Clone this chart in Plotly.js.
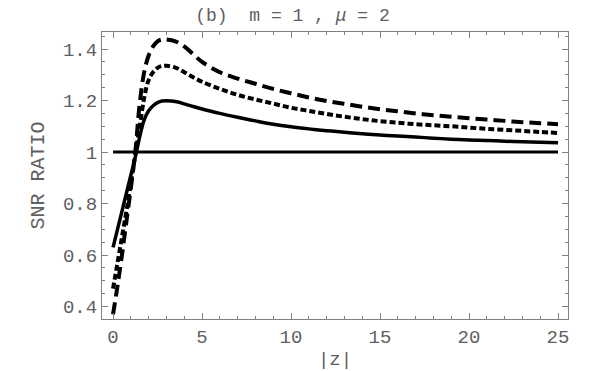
<!DOCTYPE html>
<html>
<head>
<meta charset="utf-8">
<script src="https://cdn.plot.ly/plotly-3.0.1.min.js"></script>
<style>html,body{margin:0;padding:0;background:#fff;}#chart{width:600px;height:371px;}</style>
</head>
<body>
<div id="chart"></div>
<script>
const zValues = [0, 0.25, 0.5, 0.75, 1, 1.25, 1.5, 1.75, 2, 2.25, 2.5, 2.75, 3, 3.5, 4, 4.5, 5, 6, 7, 8, 9, 10, 11, 12, 13, 14, 15, 16, 17, 18, 19, 20, 21, 22, 23, 24, 25];
const solidSNR = [0.63, 0.70, 0.77, 0.84, 0.91, 0.98, 1.06, 1.125, 1.16, 1.18, 1.192, 1.198, 1.199, 1.196, 1.187, 1.177, 1.167, 1.150, 1.135, 1.121, 1.108, 1.098, 1.090, 1.083, 1.077, 1.071, 1.066, 1.062, 1.058, 1.054, 1.050, 1.047, 1.045, 1.042, 1.040, 1.038, 1.036];
const dottedSNR = [0.47, 0.57, 0.67, 0.77, 0.88, 0.99, 1.10, 1.21, 1.28, 1.31, 1.327, 1.334, 1.335, 1.328, 1.31, 1.29, 1.273, 1.245, 1.222, 1.204, 1.188, 1.172, 1.160, 1.148, 1.137, 1.128, 1.120, 1.114, 1.108, 1.104, 1.100, 1.095, 1.090, 1.086, 1.082, 1.078, 1.074];
const dashedSNR = [0.37, 0.48, 0.60, 0.73, 0.86, 1.0, 1.19, 1.31, 1.375, 1.41, 1.43, 1.437, 1.437, 1.43, 1.41, 1.38, 1.35, 1.31, 1.285, 1.265, 1.245, 1.228, 1.212, 1.198, 1.187, 1.176, 1.166, 1.158, 1.150, 1.143, 1.137, 1.131, 1.126, 1.121, 1.116, 1.112, 1.108];
const refZ = [0, 25];
const refSNR = [1, 1];
const xTickVals = [0, 5, 10, 15, 20, 25];
const xTickText = ['0', '5', '10', '15', '20', '25'];
const yTickVals = [0.4, 0.6, 0.8, 1, 1.2, 1.4];
const yTickText = ['0.4', '0.6', '0.8', '1', '1.2', '1.4'];

const mono = 'Liberation Mono, Courier New, monospace';
const txtColor = '#606060';

const traces = [
  {x: refZ, y: refSNR, mode: 'lines', line: {color: '#000', width: 3}, hoverinfo: 'skip'},
  {x: zValues, y: solidSNR, mode: 'lines', line: {color: '#000', width: 3.5, shape: 'spline'}},
  {x: zValues, y: dottedSNR, mode: 'lines', line: {color: '#000', width: 4, dash: '6px,3px', shape: 'spline'}},
  {x: zValues, y: dashedSNR, mode: 'lines', line: {color: '#000', width: 4, dash: '12px,6px', shape: 'spline'}}
];

const axisCommon = {
  showgrid: false, zeroline: false, showline: true, linecolor: '#808080', linewidth: 1,
  mirror: 'ticks', ticks: 'inside', ticklen: 6, tickcolor: '#808080', tickwidth: 1,
  tickfont: {family: mono, size: 19, color: txtColor}
};

const layout = {
  width: 600, height: 371,
  margin: {l: 102, r: 32, t: 32, b: 52},
  paper_bgcolor: '#fff', plot_bgcolor: '#fff',
  showlegend: false,
  title: {text: '(b)  m = 1 , <i>μ</i> = 2', font: {family: mono, size: 18, color: txtColor}, x: 0.4875, xanchor: 'center', y: 0.96, yanchor: 'middle', xref: 'container', yref: 'container'},
  xaxis: Object.assign({}, axisCommon, {
    range: [-0.62, 25.56], tickvals: xTickVals, ticktext: xTickText,
    minor: {ticks: 'inside', dtick: 1, tick0: 0, ticklen: 3, tickcolor: '#808080'},
    title: {text: '|z|', font: {family: mono, size: 19, color: txtColor}, standoff: 8}
  }),
  yaxis: Object.assign({}, axisCommon, {
    range: [0.352, 1.466], tickvals: yTickVals, ticktext: yTickText,
    minor: {ticks: 'inside', dtick: 0.05, tick0: 0, ticklen: 3, tickcolor: '#808080'},
    title: {text: 'SNR RATIO', font: {family: mono, size: 20, color: txtColor}, standoff: 12}
  })
};

Plotly.newPlot('chart', traces, layout, {staticPlot: true});
</script>
</body>
</html>
